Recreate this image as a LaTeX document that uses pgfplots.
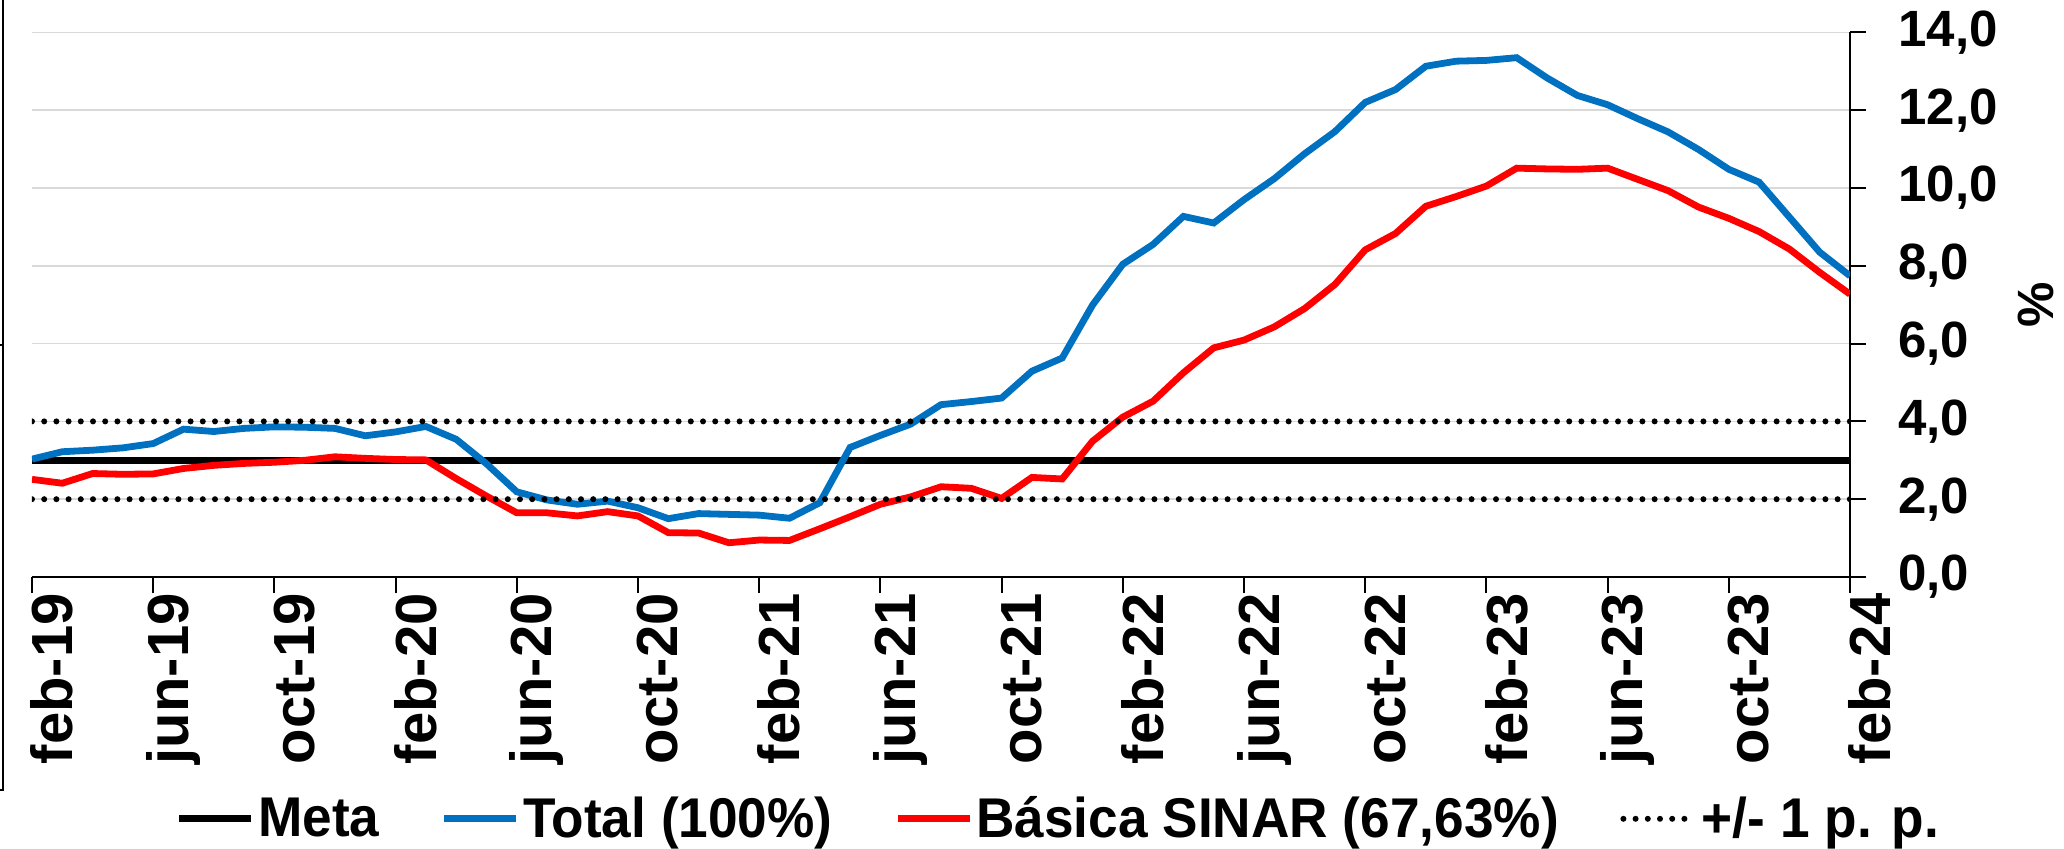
\documentclass[border=0pt]{standalone}
\usepackage{fontspec}
\setmainfont{Liberation Sans}
\usepackage{pgfplots}
\pgfplotsset{compat=1.18}
\usepackage{pgfplotstable}
\definecolor{totblue}{HTML}{0070C0}
\definecolor{basred}{HTML}{FF0000}
\definecolor{gridgray}{HTML}{D9D9D9}

\pgfplotstableread{
m total basica
0 3.03 2.51
1 3.22 2.41
2 3.26 2.66
3 3.32 2.64
4 3.43 2.65
5 3.80 2.79
6 3.74 2.87
7 3.82 2.92
8 3.86 2.95
9 3.85 3.00
10 3.82 3.09
11 3.63 3.05
12 3.73 3.02
13 3.87 3.01
14 3.54 2.53
15 2.91 2.08
16 2.19 1.65
17 1.98 1.65
18 1.87 1.57
19 1.95 1.68
20 1.78 1.57
21 1.50 1.14
22 1.63 1.13
23 1.61 0.88
24 1.59 0.95
25 1.51 0.94
26 1.91 1.24
27 3.33 1.55
28 3.64 1.87
29 3.93 2.06
30 4.43 2.32
31 4.51 2.28
32 4.60 2.02
33 5.29 2.56
34 5.63 2.52
35 6.99 3.49
36 8.04 4.11
37 8.55 4.52
38 9.27 5.25
39 9.10 5.89
40 9.70 6.09
41 10.24 6.43
42 10.88 6.90
43 11.45 7.52
44 12.20 8.41
45 12.53 8.83
46 13.13 9.53
47 13.26 9.78
48 13.28 10.05
49 13.35 10.51
50 12.83 10.49
51 12.38 10.48
52 12.14 10.51
53 11.78 10.22
54 11.44 9.93
55 10.99 9.51
56 10.48 9.22
57 10.15 8.88
58 9.25 8.43
59 8.35 7.83
60 7.74 7.27
}\datatable

\newcommand{\chartfont}{\bfseries\fontsize{25.5}{30}\selectfont}
\newcommand{\xfont}{\bfseries\fontsize{29}{32}\selectfont}
\newcommand{\legfont}{\bfseries\fontsize{28}{32}\selectfont}
\newcommand{\leg}[1]{\scalebox{0.95}[1]{#1}}

\begin{document}
\begin{tikzpicture}
\useasboundingbox (-16pt,-136pt) rectangle (1016pt,288.5pt);
\draw[line width=1pt] (-14.5pt,288.5pt) -- (-14.5pt,-106.5pt) -- (-16pt,-106.5pt);
\draw[line width=1pt] (-16pt,116pt) -- (-14.5pt,116pt);
\begin{axis}[
  at={(0pt,0pt)}, anchor=south west,
  scale only axis, width=909pt, height=272.3pt,
  xmin=0, xmax=60, ymin=0, ymax=14,
  axis x line*=bottom, axis y line*=right,
  axis line style={black, line width=1pt},
  tick align=outside, major tick length=8pt,
  tick style={black, line width=1pt},
  xtick={0,4,...,60},
  xticklabels={feb-19,jun-19,oct-19,feb-20,jun-20,oct-20,feb-21,jun-21,oct-21,feb-22,jun-22,oct-22,feb-23,jun-23,oct-23,feb-24},
  xticklabel style={rotate=90, anchor=east, inner sep=0pt, yshift=-10pt, font=\xfont},
  ytick={0,2,...,14},
  yticklabel style={anchor=west, inner sep=0pt, xshift=16pt, font=\chartfont},
  /pgf/number format/.cd, fixed, fixed zerofill, precision=1, use comma, assume math mode=true,
  /pgfplots/.cd,
  ymajorgrids, grid style={gridgray, line width=0.75pt},
  ylabel={\%},
  every axis y label/.style={at={(axis description cs:1.1025,0.5)}, rotate=90, anchor=center, font=\chartfont},
  legend columns=4,
  legend style={at={(axis description cs:0.0787,-0.444)}, anchor=west, draw=none, fill=none, inner sep=0pt,
    font=\legfont, nodes={inner sep=1.75pt},
    /tikz/every even column/.append style={column sep=29pt}},
  legend image code/.code={\draw[#1] (0pt,0pt) -- (36pt,0pt);},
]
\addplot[black, line width=3.6pt] coordinates {(0,3) (60,3)};
\addlegendentry{\leg{Meta}}
\addplot[totblue, line width=3.4pt] table[x=m, y=total] {\datatable};
\addlegendentry{\leg{Total (100\%)}}
\addplot[basred, line width=3.4pt] table[x=m, y=basica] {\datatable};
\addlegendentry{\leg{Básica SINAR (67,63\%)}}
\addplot[black, line width=3pt, dash pattern=on 0pt off 6.1pt, line cap=round] coordinates {(0,4) (60,4)};
\addlegendentry{\leg{+/- 1 p. p.}}
\addplot[black, line width=3pt, dash pattern=on 0pt off 6.1pt, line cap=round, forget plot] coordinates {(0,2) (60,2)};
\end{axis}
\end{tikzpicture}
\end{document}
